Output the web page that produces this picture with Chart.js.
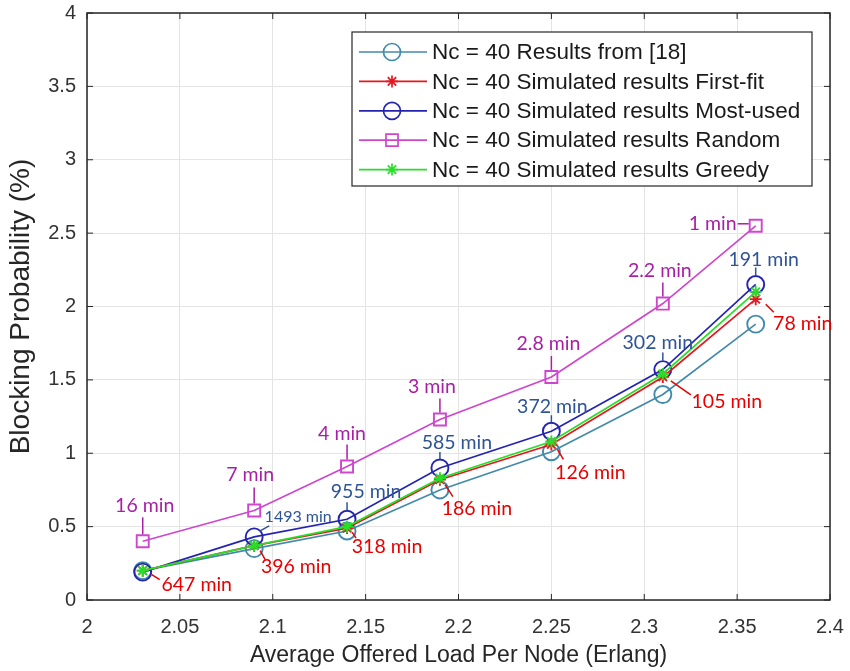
<!DOCTYPE html>
<html>
<head>
<meta charset="utf-8">
<title>Blocking probability vs offered load</title>
<script src="https://cdn.jsdelivr.net/npm/chart.js@4.4.1/dist/chart.umd.min.js"></script>
<style>
  html, body { margin: 0; padding: 0; background: #fff; }
  #wrap { width: 850px; height: 671px; }
</style>
</head>
<body>
<div id="wrap"><canvas id="blocking-chart" width="850" height="671"></canvas></div>
<script>
// Offered load per node (Erlang)
const loads = [2.03, 2.09, 2.14, 2.19, 2.25, 2.31, 2.36];

// Blocking probability (%), Nc = 40
const ref18    = [0.20, 0.35, 0.47, 0.75, 1.01, 1.40, 1.88];
const firstFit = [0.20, 0.37, 0.49, 0.82, 1.06, 1.52, 2.05];
const mostUsed = [0.19, 0.43, 0.55, 0.90, 1.15, 1.57, 2.15];
const random   = [0.40, 0.61, 0.91, 1.23, 1.52, 2.02, 2.55];
const greedy   = [0.20, 0.37, 0.50, 0.83, 1.08, 1.54, 2.10];

// Simulation run times
const randomTimes   = ['16 min', '7 min', '4 min', '3 min', '2.8 min', '2.2 min', '1 min'];
const mostUsedTimes = [null, '1493 min', '955 min', '585 min', '372 min', '302 min', '191 min'];
const firstFitTimes = ['647 min', '396 min', '318 min', '186 min', '126 min', '105 min', '78 min'];

const seriesNames = [
  'Nc = 40 Results from [18]',
  'Nc = 40 Simulated results First-fit',
  'Nc = 40 Simulated results Most-used',
  'Nc = 40 Simulated results Random',
  'Nc = 40 Simulated results Greedy'
];

const xTickLabels = ['2', '2.05', '2.1', '2.15', '2.2', '2.25', '2.3', '2.35', '2.4'];
const yTickLabels = ['0', '0.5', '1', '1.5', '2', '2.5', '3', '3.5', '4'];

// label placement: text centre (dx, dy) and leader line, relative to the marker
const randomPos = [
  { dx: 2,   dy: -36, line: [0, -24, 0, -7] },
  { dx: -4,  dy: -36, line: [0, -23, 0, -7] },
  { dx: -5,  dy: -33, line: [0, -22, 0, -7] },
  { dx: -8,  dy: -33, line: [0, -21, 0, -7] },
  { dx: -3,  dy: -33, line: [0, -21, 0, -7] },
  { dx: -3,  dy: -33, line: [0, -21, 0, -7] },
  { dx: -43, dy: -2,  line: [-18, -2, -7, -2] }
];
const mostUsedPos = [
  null,
  { dx: 44, dy: -20, line: [6, -6, 15, -11], small: true },
  { dx: 19, dy: -28, line: [0, -17, 0, -9] },
  { dx: 17, dy: -25, line: [0, -16, 0, -9] },
  { dx: 1,  dy: -25, line: [0, -16, 0, -9] },
  { dx: -5, dy: -27, line: [0, -17, 0, -9] },
  { dx: 8,  dy: -25, line: [0, -17, 0, -9] }
];
const firstFitPos = [
  { dx: 54, dy: 14, line: [9, 4, 17, 9] },
  { dx: 42, dy: 21, line: [6, 5, 11, 14] },
  { dx: 40, dy: 19, line: [5, 4, 9, 10] },
  { dx: 37, dy: 29, line: [5, 5, 13, 17] },
  { dx: 39, dy: 28, line: [6, 5, 12, 15] },
  { dx: 64, dy: 25, line: [8, 4, 28, 18] },
  { dx: 47, dy: 25, line: [10, 5, 18, 13] }
];

const colors = {
  ref18: 'rgb(66,138,172)',
  firstFit: 'rgb(228,24,34)',
  mostUsed: 'rgb(36,36,176)',
  random: 'rgb(206,70,206)',
  greedy: 'rgb(40,222,40)'
};
const textColors = {
  random: 'rgb(168,30,165)',
  mostUsed: 'rgb(47,84,150)',
  firstFit: 'rgb(232,0,0)'
};

const axisFont = "'Liberation Sans', Arial, sans-serif";
const noteFont = "Lato, 'Open Sans', sans-serif";

function series(values) {
  return loads.map((x, i) => ({ x: x, y: values[i] }));
}

function makeSet(label, values, color, style, radius, order) {
  return {
    label: label,
    data: series(values),
    borderColor: color,
    backgroundColor: color,
    borderWidth: 1.7,
    pointStyle: style,
    pointRadius: radius,
    pointHoverRadius: radius,
    pointBorderColor: color,
    pointBackgroundColor: 'rgba(0,0,0,0)',
    pointBorderWidth: 1.9,
    tension: 0,
    order: order
  };
}

const data = {
  datasets: [
    makeSet(seriesNames[0], ref18, colors.ref18, 'circle', 8.5, 4),
    makeSet(seriesNames[1], firstFit, colors.firstFit, 'star', 6, 1),
    makeSet(seriesNames[2], mostUsed, colors.mostUsed, 'circle', 8.5, 2),
    makeSet(seriesNames[3], random, colors.random, 'rect', 8.5, 3),
    makeSet(seriesNames[4], greedy, colors.greedy, 'star', 6, 0)
  ]
};

// same marker shapes as the chart, for the legend samples
function drawMarker(ctx, style, x, y, r) {
  ctx.beginPath();
  if (style === 'circle') {
    ctx.arc(x, y, r, 0, Math.PI * 2);
  } else if (style === 'rect') {
    const s = r * Math.SQRT1_2;
    ctx.rect(x - s, y - s, 2 * s, 2 * s);
  } else if (style === 'star') {
    const d = r * Math.SQRT1_2;
    ctx.moveTo(x - r, y); ctx.lineTo(x + r, y);
    ctx.moveTo(x, y - r); ctx.lineTo(x, y + r);
    ctx.moveTo(x - d, y - d); ctx.lineTo(x + d, y + d);
    ctx.moveTo(x - d, y + d); ctx.lineTo(x + d, y - d);
  }
  ctx.stroke();
}

// axes box with inward tick marks
const frame = {
  id: 'frame',
  afterDatasetsDraw(chart) {
    const { ctx, chartArea: a, scales } = chart;
    ctx.save();
    ctx.strokeStyle = '#262626';
    ctx.lineWidth = 1.5;
    ctx.strokeRect(a.left, a.top, a.right - a.left, a.bottom - a.top);
    ctx.lineWidth = 1;
    ctx.beginPath();
    scales.x.ticks.forEach(t => {
      const px = scales.x.getPixelForValue(t.value);
      ctx.moveTo(px, a.bottom); ctx.lineTo(px, a.bottom - 6);
      ctx.moveTo(px, a.top); ctx.lineTo(px, a.top + 6);
    });
    scales.y.ticks.forEach(t => {
      const py = scales.y.getPixelForValue(t.value);
      ctx.moveTo(a.left, py); ctx.lineTo(a.left + 6, py);
      ctx.moveTo(a.right, py); ctx.lineTo(a.right - 6, py);
    });
    ctx.stroke();
    ctx.restore();
  }
};

// run-time labels next to the markers
const runTimes = {
  id: 'runTimes',
  afterDatasetsDraw(chart) {
    const ctx = chart.ctx;
    const groups = [
      { set: 3, texts: randomTimes, pos: randomPos, color: textColors.random },
      { set: 2, texts: mostUsedTimes, pos: mostUsedPos, color: textColors.mostUsed },
      { set: 1, texts: firstFitTimes, pos: firstFitPos, color: textColors.firstFit }
    ];
    ctx.save();
    ctx.textAlign = 'center';
    ctx.textBaseline = 'middle';
    groups.forEach(g => {
      const pts = chart.getDatasetMeta(g.set).data;
      g.texts.forEach((txt, i) => {
        if (!txt) return;
        const p = g.pos[i];
        const el = pts[i];
        ctx.strokeStyle = g.color;
        ctx.lineWidth = 1.5;
        ctx.beginPath();
        ctx.moveTo(el.x + p.line[0], el.y + p.line[1]);
        ctx.lineTo(el.x + p.line[2], el.y + p.line[3]);
        ctx.stroke();
        ctx.fillStyle = g.color;
        ctx.font = (p.small ? '16px ' : '19.5px ') + noteFont;
        ctx.fillText(txt, el.x + p.dx, el.y + p.dy);
      });
    });
    ctx.restore();
  }
};

// boxed legend in the upper right of the plot
const boxLegend = {
  id: 'boxLegend',
  afterDraw(chart) {
    const { ctx, chartArea: a } = chart;
    const right = a.right - 18, top = a.top + 19;
    const left = right - 460, rowH = 29.4;
    const bottom = top + rowH * 5 + 7;
    ctx.save();
    ctx.fillStyle = '#fff';
    ctx.fillRect(left, top, right - left, bottom - top);
    ctx.strokeStyle = '#262626';
    ctx.lineWidth = 1.2;
    ctx.strokeRect(left, top, right - left, bottom - top);
    ctx.font = '22.5px ' + axisFont;
    ctx.textBaseline = 'middle';
    chart.data.datasets.forEach((ds, i) => {
      const y = top + 20 + i * rowH;
      ctx.strokeStyle = ds.borderColor;
      ctx.lineWidth = 1.7;
      ctx.beginPath();
      ctx.moveTo(left + 7, y);
      ctx.lineTo(left + 75, y);
      ctx.stroke();
      drawMarker(ctx, ds.pointStyle, left + 40, y, ds.pointRadius);
      ctx.fillStyle = '#1a1a1a';
      ctx.fillText(ds.label, left + 80, y + 1);
    });
    ctx.restore();
  }
};

const config = {
  type: 'line',
  data: data,
  options: {
    responsive: false,
    animation: false,
    layout: { padding: { top: 13, right: 20, left: 0, bottom: 0 } },
    plugins: {
      legend: { display: false },
      tooltip: { enabled: false }
    },
    scales: {
      x: {
        type: 'linear',
        min: 2,
        max: 2.4,
        afterFit: s => { s.height = 71; s.paddingLeft = 0; s.paddingRight = 0; },
        grid: { color: '#e4e4e4', lineWidth: 1, drawTicks: false },
        border: { display: false },
        ticks: {
          stepSize: 0.05,
          padding: 15,
          color: '#333',
          font: { family: axisFont, size: 20 },
          callback: (v, i) => xTickLabels[i]
        },
        title: {
          display: true,
          text: 'Average Offered Load Per Node (Erlang)',
          color: '#262626',
          font: { family: axisFont, size: 23 },
          padding: { top: 0, bottom: 2 }
        }
      },
      y: {
        min: 0,
        max: 4,
        afterFit: s => { s.width = 87; s.paddingTop = 0; s.paddingBottom = 0; },
        grid: { color: '#e4e4e4', lineWidth: 1, drawTicks: false },
        border: { display: false },
        ticks: {
          stepSize: 0.5,
          padding: 11,
          color: '#333',
          font: { family: axisFont, size: 20 },
          callback: (v, i) => yTickLabels[i]
        },
        title: {
          display: true,
          text: 'Blocking Probability (%)',
          color: '#262626',
          font: { family: axisFont, size: 28 },
          padding: { top: 4, bottom: 0 }
        }
      }
    }
  },
  plugins: [frame, runTimes, boxLegend]
};

const ctx = document.getElementById('blocking-chart').getContext('2d');
const blockingChart = new Chart(ctx, config);
</script>
</body>
</html>
